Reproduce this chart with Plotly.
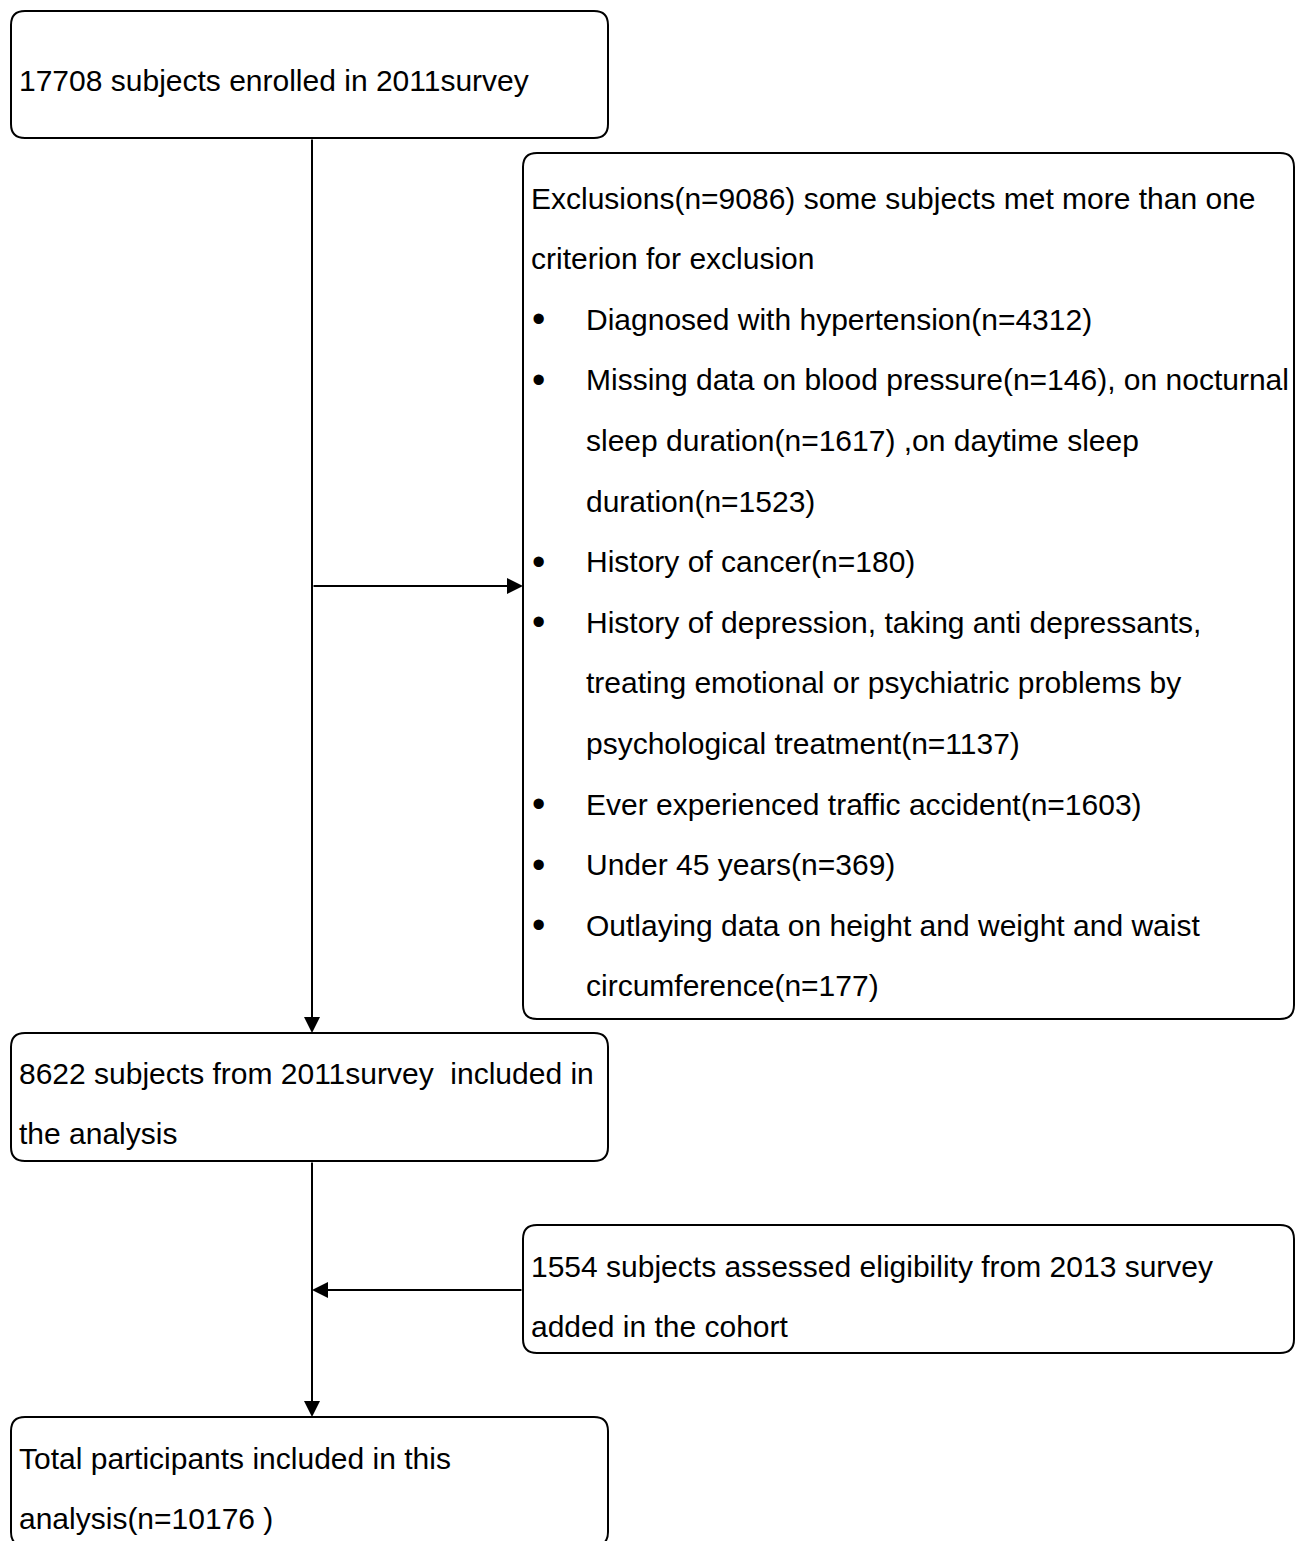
import plotly.graph_objects as go

# ---- text content ----
box1_lines = ["17708 subjects enrolled in 2011survey"]
excl_header = ["Exclusions(n=9086) some subjects met more than one",
               "criterion for exclusion"]
excl_items = [
    ["Diagnosed with hypertension(n=4312)"],
    ["Missing data on blood pressure(n=146), on nocturnal",
     "sleep duration(n=1617) ,on daytime sleep",
     "duration(n=1523)"],
    ["History of cancer(n=180)"],
    ["History of depression, taking anti depressants,",
     "treating emotional or psychiatric problems by",
     "psychological treatment(n=1137)"],
    ["Ever experienced traffic accident(n=1603)"],
    ["Under 45 years(n=369)"],
    ["Outlaying data on height and weight and waist",
     "circumference(n=177)"],
]
box3_lines = ["8622 subjects from 2011survey  included in", "the analysis"]
box4_lines = ["1554 subjects assessed eligibility from 2013 survey", "added in the cohort"]
box5_lines = ["Total participants included in this", "analysis(n=10176 )"]

W, H = 1296, 1541
FONT = dict(family="Liberation Sans, Arial, sans-serif", size=30, color="black")
BULLET_FONT = dict(family="Liberation Sans, Arial, sans-serif", size=38, color="black")
LINE_H = 60.6

x_range = [0, W]
y_range = [H, 0]

fig = go.Figure()
fig.add_trace(go.Scatter(x=x_range, y=y_range, mode="markers",
                         marker=dict(opacity=0), hoverinfo="skip", showlegend=False))

def rrect(x0, y0, x1, y1, r=14):
    return (f"M {x0+r},{y0} L {x1-r},{y0} Q {x1},{y0} {x1},{y0+r} "
            f"L {x1},{y1-r} Q {x1},{y1} {x1-r},{y1} L {x0+r},{y1} "
            f"Q {x0},{y1} {x0},{y1-r} L {x0},{y0+r} Q {x0},{y0} {x0+r},{y0} Z")

boxes = [(11, 11, 608, 138), (523, 153, 1294, 1019), (11, 1033, 608, 1161),
         (523, 1225, 1294, 1353), (11, 1417, 608, 1546)]
for b in boxes:
    fig.add_shape(type="path", path=rrect(*b), xref="x", yref="y",
                  line=dict(color="black", width=2), fillcolor="rgba(0,0,0,0)")

annots = []
def txt(x, y, s):
    annots.append(dict(x=x, y=y, xref="x", yref="y", text=s, showarrow=False,
                       xanchor="left", yanchor="middle", font=FONT))

txt(17, 80, box1_lines[0])
y = 198
for s in excl_header:
    txt(529, y, s); y += LINE_H
for item in excl_items:
    annots.append(dict(x=538, y=y, xref="x", yref="y", text="•", showarrow=False,
                       xanchor="center", yanchor="middle", font=BULLET_FONT))
    for s in item:
        txt(584, y, s); y += LINE_H
for i, s in enumerate(box3_lines):
    txt(17, 1073 + i * LINE_H, s)
for i, s in enumerate(box4_lines):
    txt(529, 1266 + i * LINE_H, s)
for i, s in enumerate(box5_lines):
    txt(17, 1458 + i * LINE_H, s)

# arrows (tail -> tip)
arrows = [((312, 138), (312, 1033)), ((312, 586), (523, 586)),
          ((312, 1161), (312, 1417)), ((523, 1290), (312, 1290))]
for (tx, ty), (hx, hy) in arrows:
    annots.append(dict(x=hx, y=hy, ax=tx, ay=ty, xref="x", yref="y", axref="x", ayref="y",
                       text="", showarrow=True, arrowhead=2, arrowsize=1.6, arrowwidth=2,
                       arrowcolor="black", standoff=0, startstandoff=0))

fig.update_layout(width=W, height=H, margin=dict(l=0, r=0, t=0, b=0),
                  paper_bgcolor="white", plot_bgcolor="white",
                  xaxis=dict(range=x_range, visible=False, fixedrange=True),
                  yaxis=dict(range=y_range, visible=False, fixedrange=True),
                  annotations=annots, showlegend=False, hovermode=False)
fig.write_html("out.html", config={"displayModeBar": False, "staticPlot": True},
               post_script="document.body.style.margin='0';document.body.style.overflow='hidden';")
